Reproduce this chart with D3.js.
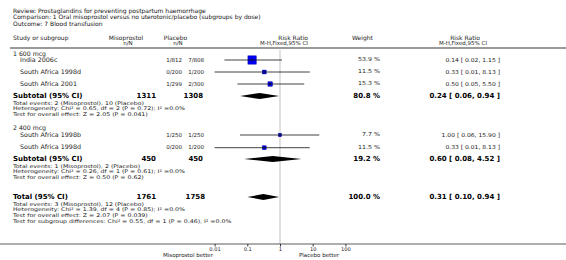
<!DOCTYPE html>
<html><head><meta charset="utf-8">
<script src="https://cdn.jsdelivr.net/npm/d3@7"></script>
<style>body{margin:0;background:#fff}svg{display:block}text{font-family:"DejaVu Sans",sans-serif;fill:#222}</style>
</head><body><svg id="c" width="566" height="260"></svg>
<script>
const titleLines = ["Review:  Prostaglandins for preventing postpartum haemorrhage",
  "Comparison:  1 Oral misoprostol versus no uterotonic/placebo (subgroups by dose)",
  "Outcome:  7 Blood transfusion"];
const groups = ["1 600 mcg", "2 400 mcg"];
const studyNames = ["India 2006c", "South Africa 1998d", "South Africa 2001", "South Africa 1998b", "South Africa 1998d"];
const studyGroup = [0, 0, 0, 1, 1];
const misoEvents = [1, 0, 1, 1, 0];
const misoTotal = [812, 200, 299, 250, 200];
const placeboEvents = [7, 1, 2, 1, 1];
const placeboTotal = [808, 200, 300, 250, 200];
const weights = [53.9, 11.5, 15.3, 7.7, 11.5];
const rr = [0.14, 0.33, 0.50, 1.00, 0.33];
const rrLo = [0.02, 0.01, 0.05, 0.06, 0.01];
const rrHi = [1.15, 8.13, 5.50, 15.90, 8.13];
const subMisoN = [1311, 450];
const subPlaceboN = [1308, 450];
const subWeight = [80.8, 19.2];
const subRR = [0.24, 0.60];
const subLo = [0.06, 0.08];
const subHi = [0.94, 4.52];
const subNotes = [
  ["Total events: 2 (Misoprostol), 10 (Placebo)", "Heterogeneity: Chi\u00b2 = 0.65, df = 2 (P = 0.72); I\u00b2 =0.0%", "Test for overall effect: Z = 2.05 (P = 0.041)"],
  ["Total events: 1 (Misoprostol), 2 (Placebo)", "Heterogeneity: Chi\u00b2 = 0.26, df = 1 (P = 0.61); I\u00b2 =0.0%", "Test for overall effect: Z = 0.50 (P = 0.62)"]];
const totalMisoN = 1761, totalPlaceboN = 1758, totalWeight = 100.0;
const totalRR = 0.31, totalLo = 0.10, totalHi = 0.94;
const totalNotes = ["Total events: 3 (Misoprostol), 12 (Placebo)", "Heterogeneity: Chi\u00b2 = 1.39, df = 4 (P = 0.85); I\u00b2 =0.0%",
  "Test for overall effect: Z = 2.07 (P = 0.039)", "Test for subgroup differences: Chi\u00b2 = 0.55, df = 1 (P = 0.46), I\u00b2 =0.0%"];
const tickValues = [0.01, 0.1, 1, 10, 100];
const tickLabels = ["0.01", "0.1", "1", "10", "100"];
const favourLeft = "Misoprostol better", favourRight = "Placebo better";

const svg = d3.select("#c");
const x = d3.scaleLog().domain([0.01, 100]).range([214.6, 345.4]);
const f2 = d3.format(".2f");
const ci = (m, l, h) => `${f2(m)} [ ${f2(l)}, ${f2(h)} ]`;

function txt(s, xx, yy, o = {}) {
  const t = svg.append("text").attr("dominant-baseline", "middle")
    .attr("font-size", o.size || 6).attr("font-weight", o.bold ? "bold" : null)
    .attr("text-anchor", o.anchor || "start").style("fill", o.fill || "#222").text(s);
  if (o.sx) t.attr("transform", `translate(${xx},${yy}) scale(${o.sx},1)`);
  else t.attr("x", xx).attr("y", yy);
  return t;
}
// title
const titleY = [11.5, 17.5, 24];
titleLines.forEach((t, i) => txt(t, 13, titleY[i], {size: 6, fill: "#111"}));
// headers
txt("Study or subgroup", 13, 38.5);
txt("Misoprostol", 126, 38.5, {anchor: "middle"}); txt("n/N", 128, 43.5, {anchor: "middle", size: 5.5});
txt("Placebo", 175.5, 38.5, {anchor: "middle"}); txt("n/N", 178, 43.5, {anchor: "middle", size: 5.5});
txt("Risk Ratio", 308, 38.5, {anchor: "end"}); txt("M-H,Fixed,95% CI", 308, 43.5, {anchor: "end", size: 5.5});
txt("Weight", 352, 38.5);
txt("Risk Ratio", 465, 38.5, {anchor: "middle"}); txt("M-H,Fixed,95% CI", 463, 43.5, {anchor: "middle", size: 5.5});
svg.append("line").attr("x1", 10).attr("x2", 566).attr("y1", 48).attr("y2", 48).attr("stroke", "#9a9a9a").attr("stroke-width", 2);

// reference line
svg.append("line").attr("x1", x(1)).attr("x2", x(1)).attr("y1", 50).attr("y2", 244).attr("stroke", "#d6d6d6").attr("stroke-width", 1.5);

// layout
const groupY = [54.5, 128];
const studyY = [60, 72, 84, 135, 147.7];
const subY = [96.5, 159.5];
const noteY = [[103.3, 109.1, 114.9], [166.3, 172.1, 177.9]];
const totalY = 197.5;
const totalNoteY = [204.3, 210.1, 215.9, 221.7];
const axisY = 244;
const noteStyle = {size: 5, sx: 1.25};

groups.forEach((g, i) => txt(g, 13, groupY[i], {size: 6.2}));
const boxSide = w => 8.3 * Math.sqrt(w / 53.9);
studyNames.forEach((n, i) => {
  const y = studyY[i];
  txt(n, 20, y, {size: 6.2, sx: 1.03});
  txt(`${misoEvents[i]}/${misoTotal[i]}`, 182, y, {anchor: "end", size: 5.5});
  txt(`${placeboEvents[i]}/${placeboTotal[i]}`, 204, y, {anchor: "end", size: 5.5});
  txt(`${weights[i].toFixed(1)} %`, 380, y, {anchor: "end", size: 5.5, sx: 1.15});
  txt(ci(rr[i], rrLo[i], rrHi[i]), 500, y, {anchor: "end", size: 5.5, sx: 1.1});
  const s = boxSide(weights[i]);
  svg.append("rect").attr("x", x(rr[i]) - s / 2).attr("y", y - s / 2).attr("width", s).attr("height", s)
    .attr("fill", "#0000f5").attr("stroke", "#0000aa").attr("stroke-width", 0.5);
  svg.append("line").attr("x1", x(rrLo[i])).attr("x2", x(rrHi[i])).attr("y1", y).attr("y2", y).attr("stroke", "#111").attr("stroke-width", 0.8);
  svg.append("line").attr("x1", x(rr[i])).attr("x2", x(rr[i])).attr("y1", y - 1.5).attr("y2", y + 1.5).attr("stroke", "#111").attr("stroke-width", 0.6);
});
function diamond(m, l, h, y) {
  svg.append("path").attr("d", `M${x(l)},${y}L${x(m)},${y - 3}L${x(h)},${y}L${x(m)},${y + 3}Z`).attr("fill", "#000");
}
const bold = {bold: true, size: 7, fill: "#000"};
subY.forEach((y, i) => {
  txt("Subtotal (95% CI)", 13, y, bold);
  txt(subMisoN[i], 156, y, {...bold, anchor: "end"});
  txt(subPlaceboN[i], 203, y, {...bold, anchor: "end"});
  txt(`${subWeight[i].toFixed(1)} %`, 380, y, {...bold, anchor: "end"});
  txt(ci(subRR[i], subLo[i], subHi[i]), 500, y, {...bold, anchor: "end"});
  diamond(subRR[i], subLo[i], subHi[i], y - 0.5);
  subNotes[i].forEach((t, j) => txt(t, 13, noteY[i][j], noteStyle));
});
txt("Total (95% CI)", 13, totalY, bold);
txt(totalMisoN, 156, totalY, {...bold, anchor: "end"});
txt(totalPlaceboN, 205, totalY, {...bold, anchor: "end"});
txt(`${totalWeight.toFixed(1)} %`, 380, totalY, {...bold, anchor: "end"});
txt(ci(totalRR, totalLo, totalHi), 500, totalY, {...bold, anchor: "end"});
diamond(totalRR, totalLo, totalHi, totalY - 0.5);
totalNotes.forEach((t, j) => txt(t, 13, totalNoteY[j], noteStyle));

// axis
svg.append("line").attr("x1", 0).attr("x2", 566).attr("y1", axisY).attr("y2", axisY).attr("stroke", "#333").attr("stroke-width", 0.8);
const ax = svg.append("g").attr("transform", `translate(0,${axisY})`)
  .call(d3.axisBottom(x).tickValues(tickValues).tickFormat((d, i) => tickLabels[i]).tickSize(2.5).tickPadding(1));
ax.select(".domain").remove();
ax.selectAll("text").attr("font-size", 5.2).style("font-family", "DejaVu Sans");
ax.selectAll("line").attr("stroke", "#333");
txt(favourLeft, 213, 255.5, {anchor: "end", size: 5.5});
txt(favourRight, 299, 255.5, {size: 5.5});
</script></body></html>
